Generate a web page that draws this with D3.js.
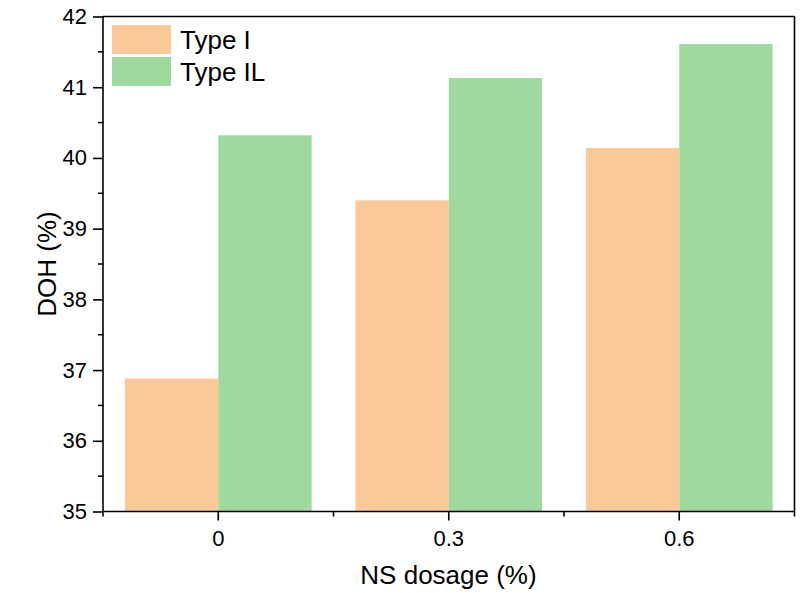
<!DOCTYPE html>
<html>
<head>
<meta charset="utf-8">
<script src="https://cdn.jsdelivr.net/npm/d3@7"></script>
<style>
  html, body { margin: 0; padding: 0; background: #fff; }
  svg { display: block; font-family: "Liberation Sans", Arial, sans-serif; }
</style>
</head>
<body>
<svg id="chart" width="805" height="593"></svg>
<script>
const categories = ["0", "0.3", "0.6"];
const seriesNames = ["Type I", "Type IL"];
const typeI = [36.88, 39.40, 40.14];
const typeIL = [40.32, 41.13, 41.61];
const yTicks = [35, 36, 37, 38, 39, 40, 41, 42];
const colors = ["#FBC898", "#A0D99E"];

(function () {
const svg = d3.select("#chart");
const pL = 103, pR = 794.5, pT = 16.5, pB = 511.5;
const FONT = "Liberation Sans, Arial, sans-serif";

const x = d3.scaleBand().domain(categories).range([pL, pR]).paddingInner(0.19).paddingOuter(0.095);
const xs = d3.scaleBand().domain(seriesNames).range([0, x.bandwidth()]);
const y = d3.scaleLinear().domain([35, 42]).range([pB, pT]);

const data = categories.map((c, i) => ({ cat: c, vals: [typeI[i], typeIL[i]] }));

// bars
const g = svg.append("g");
data.forEach(d => {
  d.vals.forEach((v, j) => {
    g.append("rect")
      .attr("x", x(d.cat) + xs(seriesNames[j]))
      .attr("y", y(v))
      .attr("width", xs.bandwidth())
      .attr("height", y(35) - y(v))
      .attr("fill", colors[j]);
  });
});

// frame: top and right lines
svg.append("line").attr("x1", pL).attr("x2", pR).attr("y1", pT).attr("y2", pT)
  .attr("stroke", "#000").attr("stroke-width", 1.6);
svg.append("line").attr("x1", pR).attr("x2", pR).attr("y1", pT).attr("y2", pB)
  .attr("stroke", "#000").attr("stroke-width", 1.6);

// y axis
const yAxis = d3.axisLeft(y).tickValues(yTicks).tickSize(10).tickPadding(6).tickFormat(d3.format("d"));
const ya = svg.append("g").attr("transform", `translate(${pL},0)`).call(yAxis);
ya.attr("font-size", 22).attr("font-family", FONT);
ya.select(".domain").attr("stroke-width", 1.6).attr("d", `M0,${pT}V${pB}`);
ya.selectAll(".tick line").attr("stroke-width", 1.6);
ya.selectAll(".tick text").attr("fill", "#000");
// minor y ticks
const minorY = d3.range(35.5, 42, 1);
svg.append("g").selectAll("line").data(minorY).join("line")
  .attr("x1", pL - 5).attr("x2", pL).attr("y1", d => y(d)).attr("y2", d => y(d))
  .attr("stroke", "#000").attr("stroke-width", 1.6);

// x axis
const xAxis = d3.axisBottom(x).tickSize(9).tickPadding(10);
const xa = svg.append("g").attr("transform", `translate(0,${pB})`).call(xAxis);
xa.attr("font-size", 22).attr("font-family", FONT);
xa.select(".domain").attr("stroke-width", 1.6).attr("d", `M${pL},0H${pR}`);
xa.selectAll(".tick line").attr("stroke-width", 1.6);
xa.selectAll(".tick text").attr("fill", "#000");
// minor x ticks at band edges
const step = x.step();
const minorX = [0, 1, 2, 3].map(i => pL + i * step);
svg.append("g").selectAll("line").data(minorX).join("line")
  .attr("x1", d => d).attr("x2", d => d).attr("y1", pB).attr("y2", pB + 5)
  .attr("stroke", "#000").attr("stroke-width", 1.6);

// axis titles
svg.append("text").attr("x", 448.5).attr("y", 584)
  .attr("text-anchor", "middle").attr("font-size", 26).text("NS dosage (%)");
svg.append("text").attr("transform", `translate(56,${(pT + pB) / 2}) rotate(-90)`)
  .attr("text-anchor", "middle").attr("font-size", 26).text("DOH (%)");

// legend
const lg = svg.append("g");
seriesNames.forEach((s, i) => {
  lg.append("rect").attr("x", 112).attr("y", 25 + i * 32).attr("width", 59).attr("height", 29)
    .attr("fill", colors[i]);
  lg.append("text").attr("x", 180).attr("y", 49 + i * 31.5).attr("font-size", 26).text(s);
});
})();
</script>
</body>
</html>
